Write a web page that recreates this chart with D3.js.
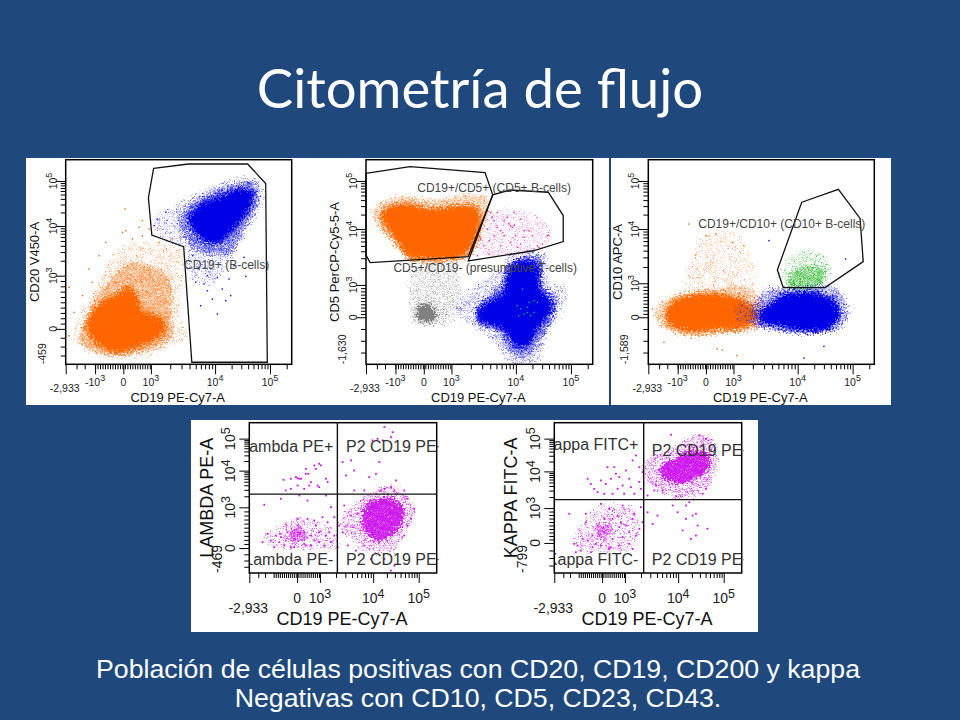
<!DOCTYPE html>
<html>
<head>
<meta charset="utf-8">
<script src="https://cdn.jsdelivr.net/npm/d3@7"></script>
<style>
  html, body { margin: 0; padding: 0; background: #1f497d; }
  svg { display: block; }
  text { font-family: "Liberation Sans", Arial, sans-serif; }
</style>
</head>
<body>
<svg id="slide" width="960" height="720"></svg>
<script>
// All values are in display channels (0-1000 along each biexponential axis).
// The solid populations are drawn as outlines, the thin ones as single events.

var title = "Citometría de flujo";
var captionLines = ["Población de células positivas con CD20, CD19, CD200 y kappa", "Negativas con CD10, CD5, CD23, CD43."];

var xLabel = "CD19 PE-Cy7-A";
var xMajorChannels = [130, 255, 377, 661, 904];
var xMajorExponents = [-3, null, 3, 4, 5];

// panel 1 - CD20 / CD19
var gate1 = [[389,958],[543,979],[805,979],[885,884],[892,10],[558,10],[522,575],[381,632],[366,814]];
var orangeCore1 = [[100,192],[122,249],[167,306],[233,339],[277,371],[314,323],[336,257],[403,233],[440,192],[417,143],[366,111],[292,78],[233,62],[159,94],[115,135]];
var orangeMid1 = [[71,176],[130,323],[204,420],[263,485],[366,485],[454,420],[469,241],[469,127],[322,54],[145,54],[63,111]];
var orangeHalo1 = [[41,176],[78,274],[145,388],[174,469],[263,583],[395,591],[513,551],[513,371],[506,241],[543,143],[469,86],[322,37],[159,37],[56,94]];
var blueCore1 = [[550,713],[602,779],[690,819],[764,852],[823,836],[808,762],[764,697],[720,640],[676,599],[617,608],[572,656]];
var blueMid1 = [[499,713],[587,811],[735,876],[838,884],[853,795],[794,665],[735,551],[661,534],[572,559],[513,648]];
var blueHalo1 = [[403,713],[484,779],[602,844],[735,909],[853,901],[875,811],[838,713],[764,583],[705,469],[646,388],[558,420],[528,551],[410,632]];
var orangeEvents1 = [[260,762],[336,705],[322,673],[248,648],[263,656],[292,616],[336,632],[174,599],[145,534],[100,469],[12,380],[34,257],[12,143],[71,339],[115,404],[469,616],[410,599],[366,664]];
var blueEvents1 = [[668,249],[705,314],[594,290],[572,404],[690,371],[727,339],[794,433],[720,420],[646,322],[624,363],[786,526],[587,469],[609,396],[668,428],[558,534],[624,437],[742,485],[403,713],[388,681],[440,746]];

// panel 2 - CD5 / CD19
var gate2a = [[0,933],[194,966],[525,937],[559,828],[451,526],[18,497],[0,534]];
var gate2b = [[559,828],[635,852],[804,841],[870,727],[870,600],[738,555],[451,505],[559,828]];
var orangeCore2 = [[76,746],[179,779],[297,754],[415,770],[488,754],[495,665],[444,551],[400,526],[253,518],[194,526],[150,591],[84,689]];
var orangeHalo2 = [[32,754],[135,819],[297,803],[459,828],[540,803],[517,665],[459,526],[209,515],[165,542],[106,608],[40,697]];
var grayCore2 = [[231,282],[275,290],[304,257],[304,225],[268,209],[231,225]];
var grayHalo2 = [[216,477],[385,477],[422,339],[400,225],[297,192],[216,209],[194,323]];
var blueCore2 = [[503,266],[576,323],[612,355],[635,469],[694,502],[753,485],[760,371],[811,306],[811,257],[753,176],[709,94],[664,94],[606,176],[503,217]];
var blueMid2 = [[488,274],[618,420],[650,502],[768,526],[782,388],[841,322],[826,225],[753,94],[694,29],[635,62],[576,160],[503,192]];
var blueHalo2 = [[400,290],[488,388],[606,469],[635,534],[782,542],[811,404],[878,371],[856,241],[797,143],[753,10],[635,5],[576,94],[488,176],[415,225]];
var pinkHalo2 = [[503,550],[562,745],[797,697],[812,623],[738,551]];
var pinkEvents2 = [[547,746],[576,746],[635,681],[643,673],[628,689],[650,681],[532,665],[576,673],[606,632],[562,632],[517,583],[540,608],[591,583],[635,599],[694,624],[731,632],[797,632],[753,583],[760,575],[738,567],[709,559],[679,591],[657,632],[620,722],[679,713],[562,705],[606,705],[488,534],[540,542],[503,616],[664,575],[554,722],[591,656],[716,656],[775,591],[694,656],[650,746],[532,754]];
var greenEvents2 = [[679,274],[709,257],[738,314],[664,290],[753,534],[716,306],[694,249],[723,241],[670,241],[753,306],[687,371],[709,282],[738,257],[731,551]];

// panel 3 - CD10 / CD19
var gate3 = [[679,792],[841,855],[937,713],[951,502],[782,375],[597,375],[571,461]];
var orangeCore3 = [[81,249],[133,314],[251,339],[354,331],[428,306],[472,241],[428,184],[310,176],[192,163],[103,192]];
var orangeHalo3 = [[30,257],[88,323],[251,363],[428,371],[516,290],[502,184],[369,160],[192,135],[52,192]];
var orangeUpper3 = [[162,355],[199,534],[236,632],[384,640],[457,502],[472,355]];
var blueCore3 = [[494,241],[546,296],[610,340],[760,340],[826,296],[841,241],[797,179],[693,168],[590,189],[502,209]];
var blueHalo3 = [[457,257],[516,360],[600,372],[830,372],[885,249],[841,168],[693,151],[546,168],[457,200]];
var mixedHalo3 = [[391,290],[487,306],[502,225],[398,209]];
var greenHalo3 = [[597,385],[605,494],[693,559],[797,518],[804,428],[767,385]];
var greenDense3 = [[620,385],[635,450],[705,480],[785,460],[755,385]];
var mixedEvents3 = [[406,257],[428,241],[457,290],[413,290],[472,249],[391,225],[443,217],[435,274],[465,225],[487,266],[432,217],[457,257]];
var orangeEvents3 = [[177,689],[251,632],[295,640],[369,599],[420,583],[66,111],[302,78],[324,73],[388,46],[15,274]];
var blueEvents3 = [[686,34],[774,91],[531,608],[870,518]];

// panel 4 - lambda
var lambdaCore = [[600,366],[644,477],[751,499],[822,432],[804,299],[733,233],[688,206],[626,266]];
var lambdaHalo = [[519,410],[626,521],[769,576],[875,432],[840,277],[751,144],[626,144],[537,233],[484,310]];
var lambdaLowCore = [[217,266],[270,310],[306,244],[262,200],[208,222]];
var lambdaLowHalo = [[84,255],[146,299],[235,366],[342,344],[449,299],[466,166],[306,155],[110,189]];
var lambdaEvents = [[368,733],[342,722],[297,699],[253,637],[217,633],[178,626],[271,633],[310,666],[404,633],[413,611],[360,588],[288,566],[217,566],[190,555],[324,611],[377,722],[297,666],[351,699],[253,588],[262,522],[164,500],[404,522],[306,488],[431,444],[75,460],[315,588],[262,633],[244,644],[368,577],
  [760,943],[716,977],[680,899],[751,910],[707,888],[653,888],[538,755],[689,744],[493,744],[635,644],[555,688],[778,622],[751,577],[698,555],[822,555],[609,555],[555,555],[671,666],[511,655],[716,566],[769,555],[840,500],[875,433],[538,388],[573,400],[502,455],[475,322],[493,277],[520,189],[564,155],[644,100],[769,55],[716,100],[751,22],[609,189],[840,322],[858,366],[822,255],
  [93,266],[66,211],[110,222],[137,255],[155,211],[182,189],[235,178],[288,200],[324,189],[368,211],[404,255],[431,211],[449,255],[351,322],[306,366],[253,366],[413,344],[386,377],[342,355],[449,377],[199,277],[164,244],[288,277],[297,189],[217,178],[128,178],[395,189],[466,178],[262,266],[324,255],[368,277],[253,322],[235,233],[190,222],[342,222],[422,277]];

// panel 5 - kappa
var kappaCore = [[564,699],[644,761],[733,810],[822,788],[826,699],[760,633],[680,595],[627,606],[573,637]];
var kappaHalo = [[493,755],[627,821],[751,910],[840,888],[867,733],[822,577],[716,500],[582,533],[484,633]];
var kappaLowCore = [[226,311],[288,326],[315,266],[262,222],[221,255]];
var kappaLowHalo = [[93,189],[164,366],[253,444],[413,433],[449,300],[413,166],[181,144]];
var kappaEvents = [[75,400],[164,400],[164,344],[101,200],[119,189],[146,233],[199,178],[199,255],[190,144],[244,189],[288,166],[342,189],[395,200],[431,255],[377,322],[350,344],[306,366],[262,366],[226,322],[262,277],[244,466],[288,433],[360,455],[457,444],[413,366],[449,300],[333,388],[395,277],[173,222],[137,155],[306,233],[360,244],[342,311],[297,177],[217,200],[110,144],[413,166],[466,344],[422,400],
  [173,633],[190,599],[226,544],[262,533],[297,633],[279,710],[315,710],[342,644],[360,588],[404,577],[449,611],[377,688],[413,755],[449,710],[431,788],[466,677],[333,566],[270,599],[306,533],[244,622],[395,633],[422,533],[457,566],[368,533],[208,566],[324,666],
  [493,410],[546,388],[520,333],[653,410],[698,455],[733,388],[751,400],[680,289],[724,233],[813,300],[760,322],[751,255],[698,366],[627,455],[716,477],
  [618,926],[769,921],[804,899],[573,555],[644,517],[787,533],[804,566],[538,588],[493,522],[529,555]];

var orange = "#ff6600", blue = "#0000e6", gray = "#808080", pink = "#ee22aa", green = "#00a800", teal = "#00b060", magenta = "#cc11ee", mixed = "#6a3a7a";

var panels = [
  { left: 65.7, right: 291.7, top: 159.7, bottom: 364.3, yLabel: "CD20 V450-A", yLabelX: 39, yMin: "-459", yMajor: [173,433,676,896],
    regions: [[orangeHalo1, orange, 24], [orangeMid1, orange, 11], [orangeCore1, orange, 0, 7], [blueHalo1, blue, 24], [blueMid1, blue, 11], [blueCore1, blue, 0, 7]],
    events: [[orangeEvents1, orange], [blueEvents1, blue]],
    gates: [gate1], notes: [["CD19+ (B-cells)", 524, 466]] },
  { left: 366, right: 592.7, top: 159.7, bottom: 364.3, yLabel: "CD5 PerCP-Cy5-5-A", yLabelX: 339, yMin: "-1,630", yMajor: [230,388,661,896],
    regions: [[orangeHalo2, orange, 13], [orangeCore2, orange, 0, 7], [grayHalo2, gray, 18], [grayCore2, gray, 0, 10], [blueHalo2, blue, 20], [blueMid2, blue, 11], [blueCore2, blue, 0, 7], [pinkHalo2, pink, 26]],
    events: [[pinkEvents2, pink], [greenEvents2, teal]],
    gates: [gate2a, gate2b], notes: [["CD19+/CD5+ (CD5+ B-cells)", 226, 841], ["CD5+/CD19- (presumptive T-cells)", 121, 450]] },
  { left: 648.3, right: 874.3, top: 159.7, bottom: 364.3, yLabel: "CD10 APC-A", yLabelX: 622, yMin: "-1,589", yMajor: [230,396,661,896],
    regions: [[orangeUpper3, orange, 28], [orangeHalo3, orange, 13], [orangeCore3, orange, 0, 7], [blueHalo3, blue, 13], [blueCore3, blue, 0, 7], [mixedHalo3, mixed, 16], [greenHalo3, green, 22], [greenDense3, green, 11]],
    events: [[orangeEvents3, orange], [blueEvents3, blue], [mixedEvents3, mixed]],
    gates: [gate3], notes: [["CD19+/CD10+ (CD10+ B-cells)", 221, 665]] },
  { left: 249.3, right: 436.7, top: 422.7, bottom: 573, large: true, yLabel: "LAMBDA PE-A", yLabelX: 213, yMin: "-469", yMajor: [166,437,681,894],
    regions: [[lambdaHalo, magenta, 24], [lambdaCore, magenta, 8], [lambdaLowHalo, magenta, 32], [lambdaLowCore, magenta, 14]],
    events: [[lambdaEvents, magenta]], gates: [],
    quad: { x: 470, y: 525, low: ["Lambda PE-", 55], high: ["Lambda PE+", 804], labelEnd: 448, labelStart: 516, offset: [55, 804] } },
  { left: 554.3, right: 741.7, top: 422.7, bottom: 573, large: true, yLabel: "KAPPA FITC-A", yLabelX: 517, yMin: "-799", yMajor: [200,432,676,894],
    regions: [[kappaHalo, magenta, 22], [kappaCore, magenta, 8], [kappaLowHalo, magenta, 32], [kappaLowCore, magenta, 14]],
    events: [[kappaEvents, magenta]], gates: [],
    quad: { x: 477, y: 488, low: ["Kappa FITC-", 51], high: ["Kappa FITC+", 817], labelEnd: 449, labelStart: 520, offset: [51, 781] } }
];

// irregular dots of one pattern tile, in a 30x30 box
var speckDots = [[1,3],[7,1],[13,4],[20,2],[26,5],[4,8],[10,9],[17,7],[23,10],[29,9],[2,14],[8,13],[14,12],[21,14],[27,13],[5,18],[11,17],[18,19],[24,17],[0,21],[7,23],[13,21],[20,24],[28,20],[3,27],[10,28],[16,26],[23,28],[29,25],[15,16],[6,5],[25,22],[12,25],[19,11],[1,10],[27,29]];

var svg = d3.select("#slide");
var defs = svg.append("defs");
var line = d3.line();
var blob = d3.line().curve(d3.curveCatmullRomClosed.alpha(0.5));

// roughens the outlines and shakes the speckle so it does not read as a grid
var rough = defs.append("filter").attr("id", "rough").attr("color-interpolation-filters", "sRGB");
rough.append("feTurbulence").attr("type", "fractalNoise").attr("baseFrequency", 0.55).attr("numOctaves", 2).attr("seed", 4).attr("result", "noise");
rough.append("feDisplacementMap").attr("in", "SourceGraphic").attr("in2", "noise").attr("scale", 14).attr("xChannelSelector", "R").attr("yChannelSelector", "G").attr("result", "moved");
rough.append("feGaussianBlur").attr("in", "moved").attr("stdDeviation", 0.3);

svg.append("rect").attr("width", 960).attr("height", 720).attr("fill", "#1f497d");
svg.append("text").attr("x", 480).attr("y", 108).attr("text-anchor", "middle").attr("fill", "#fff")
  .style("font-family", "Lato").style("font-size", "54.5px").text(title);

// white sheets behind the plots
svg.append("rect").attr("x", 26).attr("y", 158).attr("width", 865).attr("height", 247).attr("fill", "#fff");
svg.append("rect").attr("x", 609).attr("y", 158).attr("width", 2).attr("height", 247).attr("fill", "#1f497d");
svg.append("rect").attr("x", 191).attr("y", 420).attr("width", 567).attr("height", 212).attr("fill", "#fff");

svg.selectAll(".caption").data(captionLines).enter().append("text")
  .attr("class", "caption").attr("x", 478).attr("y", function (d, i) { return 678 + i * 29; })
  .attr("text-anchor", "middle").attr("fill", "#fff").style("font-size", "26.7px").text(function (d) { return d; });

function speck(color, tile, turn, dot) {
  var id = "speck" + color.slice(1) + "_" + String(tile).replace(".", "p") + "_" + Math.abs(turn) + "_" + String(dot).replace(".", "p");
  if (defs.select("#" + id).empty()) {
    var p = defs.append("pattern").attr("id", id).attr("patternUnits", "userSpaceOnUse")
      .attr("width", tile).attr("height", tile).attr("patternTransform", "rotate(" + turn + ")");
    p.selectAll("rect").data(speckDots).enter().append("rect")
      .attr("x", function (d) { return d[0] * tile / 30; })
      .attr("y", function (d) { return d[1] * tile / 30; })
      .attr("width", dot).attr("height", dot).attr("fill", color);
  }
  return "url(#" + id + ")";
}

// tick channels for one decade, spaced like a log axis
function decadeTicks(a, b) {
  return d3.range(2, 10).map(function (k) { return a + (b - a) * Math.log10(k); });
}

var xDense = d3.range(130, 378, 11);

function drawPanel(p, idx) {
  var g = svg.append("g");
  var x = d3.scaleLinear().domain([0, 1000]).range([p.left, p.right]);
  var y = d3.scaleLinear().domain([0, 1000]).range([p.bottom, p.top]);
  var big = !!p.large;
  var tickFont = big ? 14 : 10.5, labelFont = big ? 18 : 13;
  var dot = big ? 1.5 : 1;

  var clipId = "clip" + idx;
  defs.append("clipPath").attr("id", clipId).append("rect")
    .attr("x", p.left).attr("y", p.top).attr("width", p.right - p.left + 2).attr("height", p.bottom - p.top);
  var clipped = g.append("g").attr("clip-path", "url(#" + clipId + ")");
  var plot = clipped.append("g").attr("filter", "url(#rough)");

  function coords(pts) { return pts.map(function (d) { return [x(d[0]), y(d[1])]; }); }
  function path(pts) { return line(coords(pts)); }

  p.regions.forEach(function (r) {
    var d = blob(coords(r[0]));
    if (r[2]) {
      plot.append("path").attr("d", d).attr("fill", speck(r[1], r[2], 20, dot));
      plot.append("path").attr("d", d).attr("fill", speck(r[1], r[2] * 1.37, -35, dot));
    } else {
      plot.append("path").attr("d", d).attr("fill", r[1]).attr("stroke", speck(r[1], r[3], 20, dot)).attr("stroke-width", 7);
    }
  });

  p.events.forEach(function (e) {
    var size = big ? 1.8 : 1.4;
    clipped.selectAll(null).data(e[0]).enter().append("rect")
      .attr("x", function (d) { return x(d[0]); }).attr("y", function (d) { return y(d[1]); })
      .attr("width", size).attr("height", size).attr("fill", e[1]);
  });

  // gate outlines may sit on the frame so they stay outside the clip
  p.gates.forEach(function (gate) {
    g.append("path").attr("d", path(gate) + (gate[0] === gate[gate.length - 1] ? "" : "Z"))
      .attr("fill", "none").attr("stroke", "#111").attr("stroke-width", 1.3);
  });

  (p.notes || []).forEach(function (n) {
    g.append("text").attr("x", x(n[1])).attr("y", y(n[2])).attr("fill", "#444").style("font-size", "12px").text(n[0]);
  });

  if (p.quad) {
    var q = p.quad;
    clipped.append("line").attr("x1", x(q.x)).attr("x2", x(q.x)).attr("y1", p.top).attr("y2", p.bottom).attr("stroke", "#111").attr("stroke-width", 1.4);
    clipped.append("line").attr("x1", p.left).attr("x2", p.right).attr("y1", y(q.y)).attr("y2", y(q.y)).attr("stroke", "#111").attr("stroke-width", 1.4);
    [q.high, q.low].forEach(function (l) {
      clipped.append("text").attr("x", x(q.labelEnd)).attr("y", y(l[1])).attr("text-anchor", "end").attr("fill", "#333").style("font-size", "16px").text(l[0]);
    });
    q.offset.forEach(function (v) {
      clipped.append("text").attr("x", x(q.labelStart)).attr("y", y(v)).attr("fill", "#333").style("font-size", "16px").text("P2 CD19 PE+");
    });
  }

  g.append("rect").attr("x", p.left).attr("y", p.top).attr("width", p.right - p.left).attr("height", p.bottom - p.top)
    .attr("fill", "none").attr("stroke", "#000").attr("stroke-width", 1.5);

  // x axis: major, then minor ticks
  var xMinor = [48, 84].concat(xDense, decadeTicks(377, 661), decadeTicks(661, 904), big ? [] : [978]);
  var xMajorAll = big ? [0, 255, 377, 661, 904] : [0, 130, 255, 377, 661, 904];
  [[xMajorAll, 10], [xMinor, 5]].forEach(function (t) {
    g.append("g").attr("transform", "translate(0," + p.bottom + ")")
      .call(d3.axisBottom(x).tickValues(t[0]).tickSize(t[1]).tickFormat(""))
      .call(function (a) { a.select(".domain").remove(); a.selectAll("line").attr("stroke", "#000"); });
  });

  // y axis
  var m = p.yMajor;
  var yLow = d3.range(1, 10).map(function (k) { return m[0] + (m[1] - m[0]) * k / 10; });
  var yBelow = [m[0] * 0.25, m[0] * 0.5, m[0] * 0.75];
  var yMinor = yBelow.concat(yLow, decadeTicks(m[1], m[2]), decadeTicks(m[2], m[3]));
  [[m, 10], [yMinor, 5]].forEach(function (t) {
    g.append("g").attr("transform", "translate(" + p.left + ",0)")
      .call(d3.axisLeft(y).tickValues(t[0]).tickSize(t[1]).tickFormat(""))
      .call(function (a) { a.select(".domain").remove(); a.selectAll("line").attr("stroke", "#000"); });
  });

  // x tick labels
  var xBase = p.bottom + (big ? 30 : 22);
  xMajorChannels.forEach(function (c, i) {
    var exp = xMajorExponents[i];
    if (big && exp === -3) return;
    var t = g.append("text").attr("x", x(c)).attr("y", xBase).attr("text-anchor", "middle").attr("fill", "#222").style("font-size", tickFont + "px");
    if (exp === null) { t.text("0"); return; }
    t.append("tspan").text(exp < 0 ? "-10" : "10");
    t.append("tspan").attr("dy", -5).style("font-size", (tickFont - 1.5) + "px").text(Math.abs(exp));
  });
  g.append("text").attr("x", p.left - 1).attr("y", p.bottom + (big ? 40 : 28)).attr("text-anchor", "middle").attr("fill", "#222")
    .style("font-size", tickFont + "px").text("-2,933");
  g.append("text").attr("x", (p.left + p.right) / 2 - 1).attr("y", p.bottom + (big ? 52 : 38)).attr("text-anchor", "middle").attr("fill", "#111")
    .style("font-size", labelFont + "px").text(xLabel);

  // y tick labels, rotated
  var yTickX = p.left - (big ? 14 : 9);
  m.forEach(function (c, i) {
    var t = g.append("text").attr("transform", "translate(" + yTickX + "," + y(c) + ") rotate(-90)")
      .attr("text-anchor", "middle").attr("fill", "#222").style("font-size", tickFont + "px");
    if (i === 0) { t.text("0"); return; }
    t.append("tspan").text("10");
    t.append("tspan").attr("dy", -5).style("font-size", (tickFont - 1.5) + "px").text(i + 2);
  });
  g.append("text").attr("transform", "translate(" + (p.left - (big ? 27 : 20)) + "," + p.bottom + ") rotate(-90)")
    .attr("fill", "#222").style("font-size", tickFont + "px").text(p.yMin);
  g.append("text").attr("transform", "translate(" + p.yLabelX + "," + ((p.top + p.bottom) / 2) + ") rotate(-90)")
    .attr("text-anchor", "middle").attr("fill", "#111").style("font-size", labelFont + "px").text(p.yLabel);
}

panels.forEach(drawPanel);
</script>
</body>
</html>
